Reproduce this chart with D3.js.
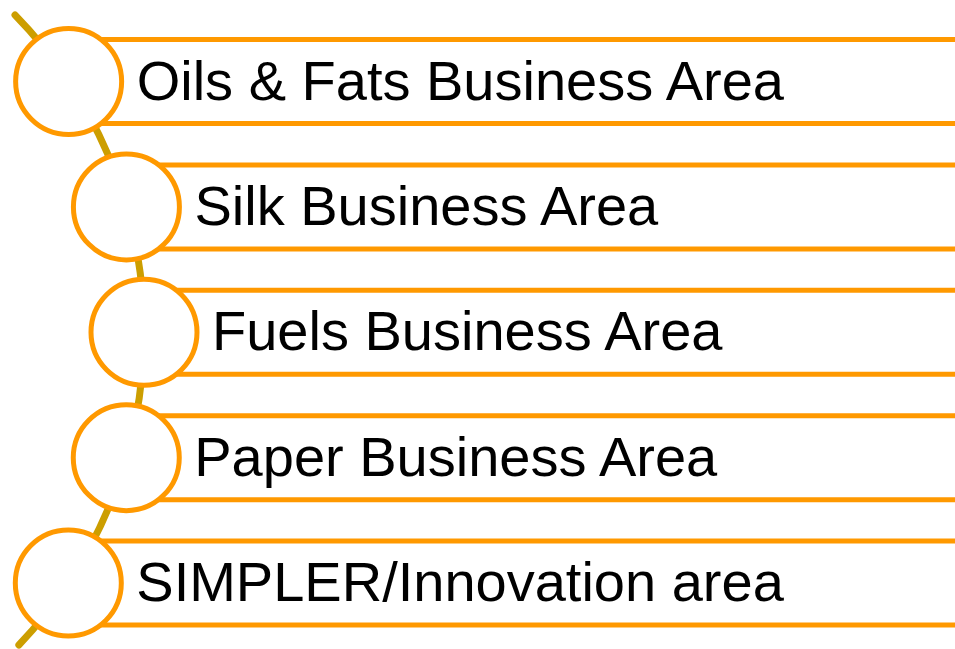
<!DOCTYPE html>
<html>
<head>
<meta charset="utf-8">
<script src="https://cdn.jsdelivr.net/npm/d3@7"></script>
<style>
  html, body { margin: 0; padding: 0; background: #fff; }
  svg { display: block; }
</style>
</head>
<body>
<div id="chart"></div>
<script>
// items of the curved list, top to bottom
const labels = [
    'Oils & Fats Business Area',
    'Silk Business Area',
    'Fuels Business Area',
    'Paper Business Area',
    'SIMPLER/Innovation area'
];

const width = 955, height = 649;
const orange = '#FF9900', olive = '#CC9E00';

// the spine is an arc of a big circle, centre off the left edge
const arcCx = -310, arcCy = 332, arcR = 454;
const nodeR = 53, bandHalf = 42;

const y = d3.scalePoint()
    .domain(labels)
    .range([81.5, 583]);

function arcX(yy) {
    const dy = yy - arcCy;
    return arcCx + Math.sqrt(arcR * arcR - dy * dy);
}

const svg = d3.select('#chart').append('svg')
    .attr('width', width)
    .attr('height', height);

// spine
const a0 = Math.atan2(15 - arcCy, arcX(15) - arcCx);
const a1 = Math.atan2(645 - arcCy, arcX(645) - arcCx);
const p = d3.path();
p.arc(arcCx, arcCy, arcR, a0, a1, false);
svg.append('path')
    .attr('d', p.toString())
    .attr('fill', 'none')
    .attr('stroke', olive)
    .attr('stroke-width', 7)
    .attr('stroke-linecap', 'round');

const items = svg.selectAll('g.item')
    .data(labels)
    .enter().append('g')
    .attr('class', 'item')
    .attr('transform', d => 'translate(' + arcX(y(d)) + ',' + y(d) + ')');

// top and bottom rules of each band
items.selectAll('line')
    .data(d => [-bandHalf, bandHalf].map(o => ({ d: d, o: o })))
    .enter().append('line')
    .attr('x1', 0)
    .attr('x2', d => width - arcX(y(d.d)) + 5)
    .attr('y1', d => d.o)
    .attr('y2', d => d.o)
    .attr('stroke', orange)
    .attr('stroke-width', 5);

items.append('circle')
    .attr('r', nodeR)
    .attr('fill', '#fff')
    .attr('stroke', orange)
    .attr('stroke-width', 5);

items.append('text')
    .attr('x', 68)
    .attr('y', 18)
    .style('font-family', "'Liberation Sans', Arial, sans-serif")
    .style('font-size', '56px')
    .attr('fill', '#000')
    .text(d => d);
</script>
</body>
</html>
